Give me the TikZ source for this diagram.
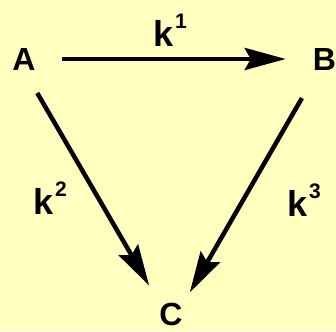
\documentclass[tikz,border=0pt]{standalone}
\usepackage{fontspec}
\setmainfont{Liberation Sans}
\usetikzlibrary{arrows.meta}
\definecolor{paleyellow}{RGB}{255,255,192}
\begin{document}
\begin{tikzpicture}[x=1pt, y=1pt,
        every node/.style={inner sep=0pt, font=\fontsize{32}{36}\selectfont\bfseries},
        rate/.style={anchor=base west, font=\fontsize{36}{40}\selectfont\bfseries},
        arr/.style={line width=4.5pt, -{Stealth[length=41pt, width=22pt, inset=6pt]}}]
    % Parameters
    \def\supsize{\fontsize{21}{22}\selectfont}

    % Background
    \fill[paleyellow] (0, 0) rectangle (336, 331);
    \useasboundingbox (0, 0) rectangle (336, 331);

    % Species
    \node (A) at (24, 272) {A};
    \node (B) at (324.5, 272) {B};
    \node (C) at (171, 17) {C};

    % Rate constants
    \node[rate] (k1) at (153, 284) {k\kern2pt\raisebox{18pt}{\supsize 1}};
    \node[rate] (k2) at (33, 116) {k\kern2pt\raisebox{18pt}{\supsize 2}};
    \node[rate] (k3) at (287, 114) {k\kern2pt\raisebox{18pt}{\supsize 3}};

    % Reactions
    \draw[arr, shorten <=26pt, shorten >=27pt] (A.east) -- (B.west);
    \draw[arr, shorten <=26.4pt, shorten >=19.7pt] (A.south) -- ([xshift=-12pt]C.north);
    \draw[arr, shorten <=32.2pt, shorten >=11.5pt] ([xshift=-6.5pt]B.south) -- ([xshift=13pt]C.north);
\end{tikzpicture}
\end{document}
